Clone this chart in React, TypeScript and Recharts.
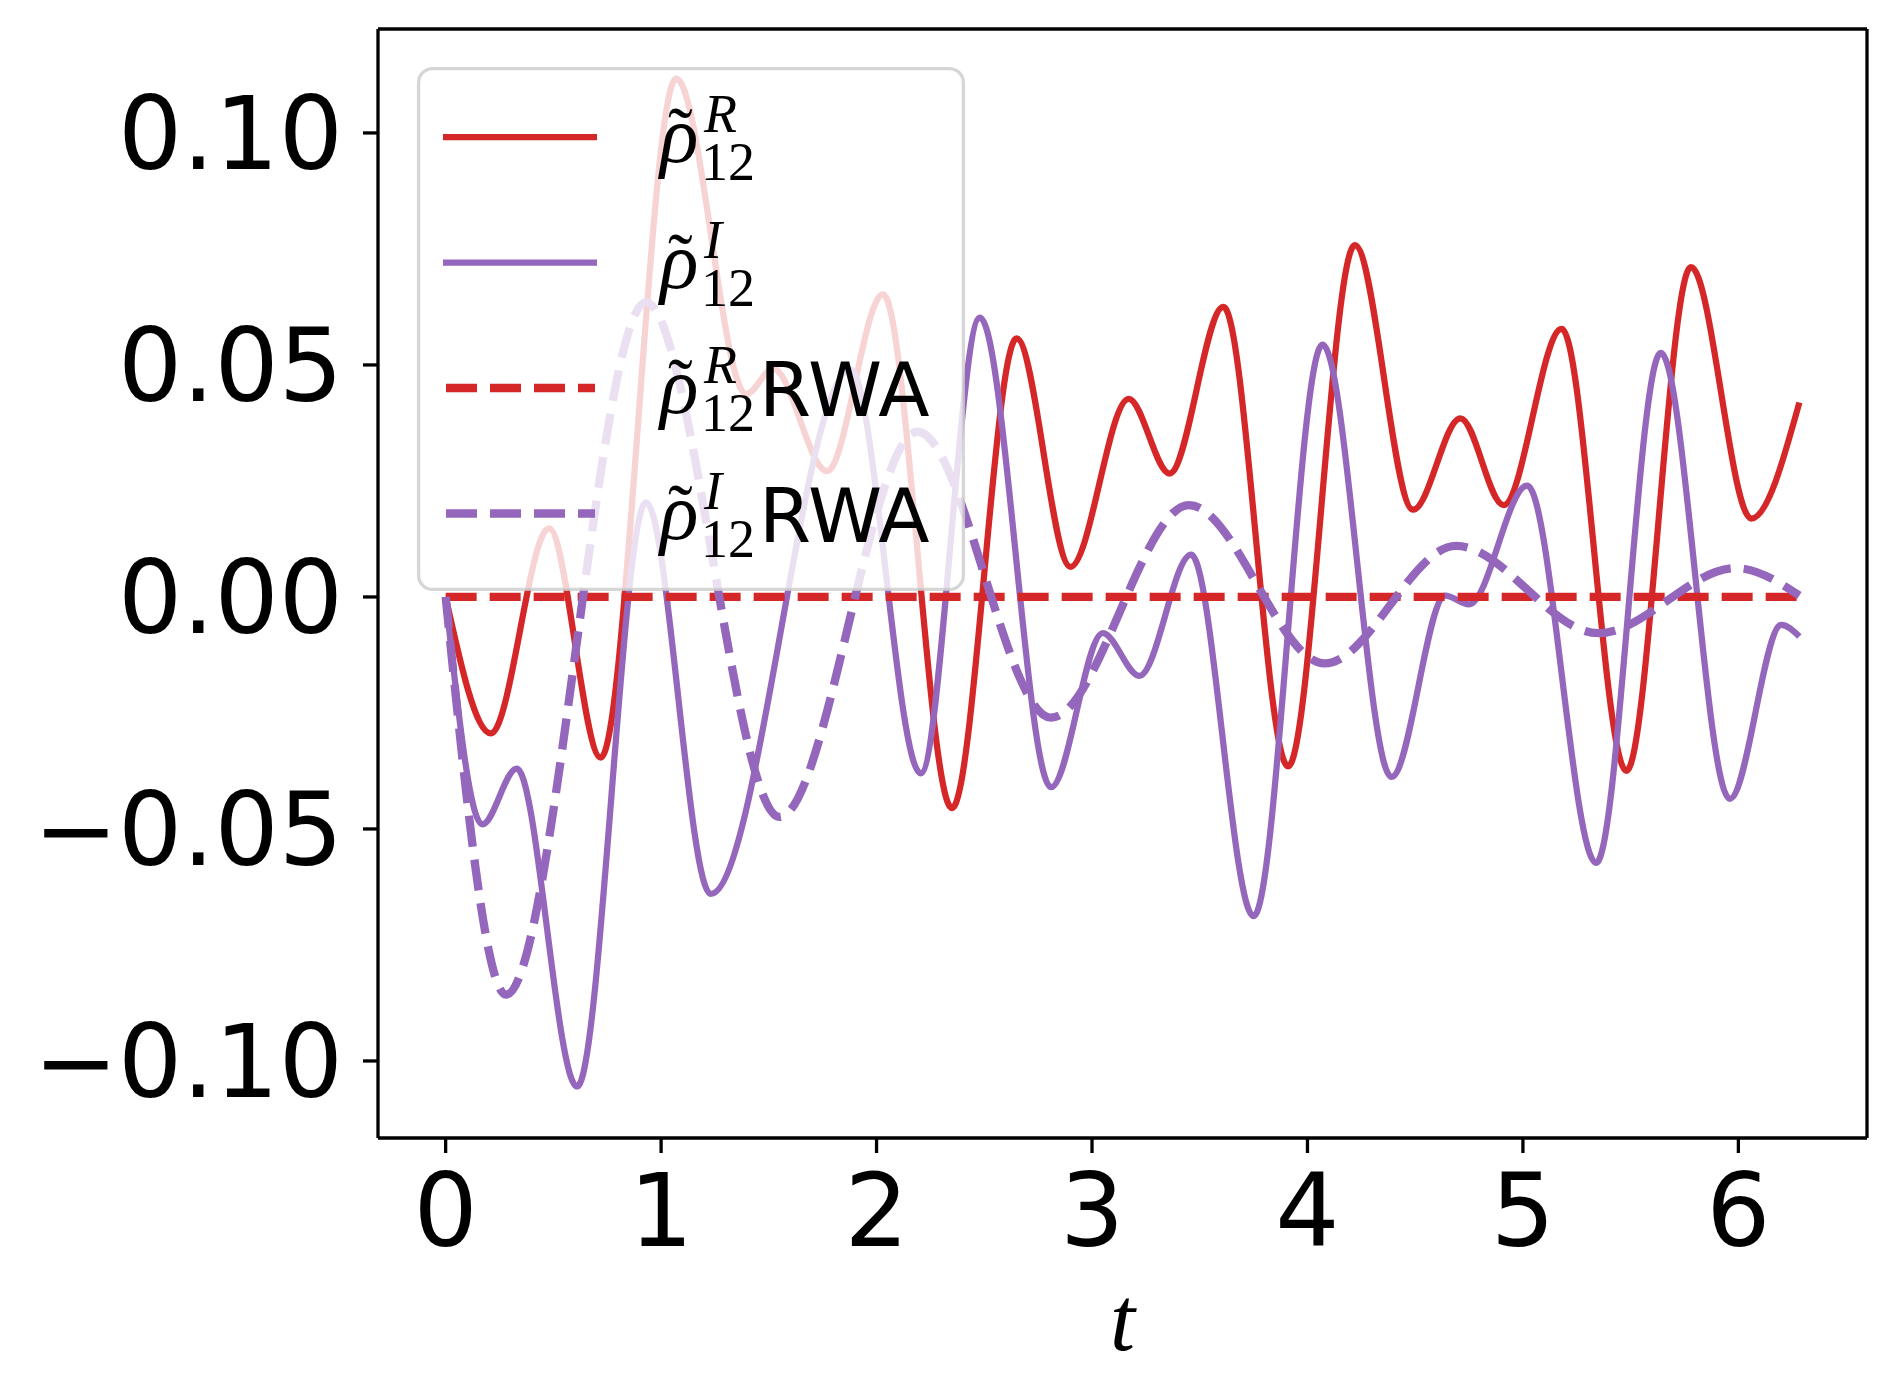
import { LineChart, Line, XAxis, YAxis, Legend, Label } from "recharts";

// time axis ticks and extents (0 .. 2*pi with matplotlib-like margins)
const xTicks = [0, 1, 2, 3, 4, 5, 6];
const yTicks = [-0.1, -0.05, 0, 0.05, 0.1];
const xDomain = [-0.314, 6.597];
const yDomain = [-0.1166, 0.1224];

// rho12 real part
const rhoRT = [0, 0.21, 0.48, 0.72, 1.07, 1.395, 1.52, 1.77, 2.03, 2.35, 2.65, 2.9, 3.17, 3.36, 3.61, 3.91, 4.22, 4.49, 4.71, 4.91, 5.18, 5.48, 5.78, 6.06, 6.283];
const rhoRV = [0, -0.0294, 0.0148, -0.0346, 0.1117, 0.0437, 0.0492, 0.0271, 0.0652, -0.0455, 0.0557, 0.0065, 0.0427, 0.0266, 0.0625, -0.0365, 0.0758, 0.0188, 0.0385, 0.0198, 0.0578, -0.0375, 0.0711, 0.0169, 0.0419];

// rho12 imaginary part
const rhoIT = [0, 0.17, 0.33, 0.61, 0.93, 1.23, 1.88, 2.205, 2.48, 2.81, 3.05, 3.22, 3.46, 3.75, 4.07, 4.39, 4.64, 4.75, 5.02, 5.34, 5.64, 5.96, 6.2, 6.283];
const rhoIV = [0, -0.049, -0.037, -0.1055, 0.0204, -0.064, 0.049, -0.038, 0.0602, -0.041, -0.0078, -0.017, 0.0091, -0.0688, 0.0544, -0.0388, 0.0003, -0.0016, 0.024, -0.0573, 0.0526, -0.0435, -0.006, -0.0085];

// RWA real part (identically zero)
const rwaRT = [0, 6.283];
const rwaRV = [0, 0];

// RWA imaginary part
const rwaIT = [0, 0.28, 0.93, 1.55, 2.19, 2.81, 3.45, 4.08, 4.69, 5.35, 5.99, 6.283];
const rwaIV = [0, -0.0857, 0.0635, -0.0474, 0.0356, -0.026, 0.0198, -0.0143, 0.011, -0.0078, 0.0062, 0.0003];

const zip = (ts: number[], vs: number[]) => ts.map((t, i) => ({ t, v: vs[i] }));

const RED = "#d62728";
const PURPLE = "#9467bd";

const series = [
  { key: "rR", data: zip(rhoRT, rhoRV), color: RED, dashed: false, sup: "R", rwa: false },
  { key: "rI", data: zip(rhoIT, rhoIV), color: PURPLE, dashed: false, sup: "I", rwa: false },
  { key: "wR", data: zip(rwaRT, rwaRV), color: RED, dashed: true, sup: "R", rwa: true },
  { key: "wI", data: zip(rwaIT, rwaIV), color: PURPLE, dashed: true, sup: "I", rwa: true },
];

const fmtY = (v: number) => (Math.abs(v) < 1e-9 ? "0.00" : v.toFixed(2).replace("-", "\u2212"));

const tickStyle = { fontFamily: "DejaVu Sans", fontSize: 101, fill: "#000" };
const mathFont = "Liberation Serif";
const frame = { stroke: "#000", strokeWidth: 3.3 };

function LegendBox() {
  return (
    <svg width={548} height={524} style={{ display: "block", overflow: "visible" }}>
      <rect x={1.6} y={1.6} width={544.8} height={520.8} rx={14} ry={14}
        fill="#ffffff" fillOpacity={0.8} stroke="#cccccc" strokeOpacity={0.8} strokeWidth={3.3} />
      {series.map((s, i) => {
        const ly = 70 + i * 125.5;
        const b = ly + 25;
        return (
          <g key={s.key}>
            <line x1={s.dashed ? 29 : 26} x2={s.dashed ? 178 : 180} y1={ly} y2={ly}
              stroke={s.color} strokeWidth={s.dashed ? 8.3 : 6.25}
              strokeDasharray={s.dashed ? "31 13" : undefined} />
            <text fontFamily={mathFont} fill="#000">
              <tspan x={243} y={b} fontStyle="italic" fontSize={80}>ρ</tspan>
              <tspan x={251} y={b - 3} fontSize={74}>˜</tspan>
              <tspan x={287} y={b - 30} fontStyle="italic" fontSize={54}>{s.sup}</tspan>
              <tspan x={284} y={b + 18} fontSize={54}>12</tspan>
              {s.rwa && (
                <tspan x={342} y={b + 3} fontFamily="DejaVu Sans" fontSize={75}>RWA</tspan>
              )}
            </text>
          </g>
        );
      })}
    </svg>
  );
}

export default function App() {
  return (
    <div style={{ position: "absolute", left: 0, top: 0, background: "#fff" }}>
      <LineChart width={1896} height={1396} margin={{ top: 28, right: 28, left: 0, bottom: 0 }}>
        <XAxis type="number" dataKey="t" domain={xDomain} ticks={xTicks} allowDataOverflow
          height={258} tickSize={15} tickMargin={21} tick={tickStyle}
          axisLine={frame} tickLine={frame}>
          <Label value="t" position="insideBottom" offset={46}
            style={{ fontFamily: mathFont, fontStyle: "italic", fontSize: 90, fill: "#000" }} />
        </XAxis>
        <XAxis xAxisId="top" orientation="top" type="number" domain={xDomain} allowDataOverflow
          height={1} tick={false} tickLine={false} axisLine={frame} />
        <YAxis type="number" domain={yDomain} ticks={yTicks} allowDataOverflow width={378}
          tickSize={15} tickMargin={20} tick={tickStyle} tickFormatter={fmtY}
          axisLine={frame} tickLine={frame} />
        <YAxis yAxisId="right" orientation="right" type="number" domain={yDomain} allowDataOverflow
          width={1} tick={false} tickLine={false} axisLine={frame} />
        {series.map((s) => (
          <Line key={s.key} data={s.data} dataKey="v" type="monotone" stroke={s.color}
            strokeWidth={s.dashed ? 8.3 : 6.25} strokeDasharray={s.dashed ? "31 13" : undefined}
            dot={false} activeDot={false} isAnimationActive={false} />
        ))}
        <Legend layout="vertical" align="center" verticalAlign="middle"
          wrapperStyle={{ left: 417, top: 67, width: 548, height: 524 }}
          content={() => <LegendBox />} />
      </LineChart>
    </div>
  );
}
